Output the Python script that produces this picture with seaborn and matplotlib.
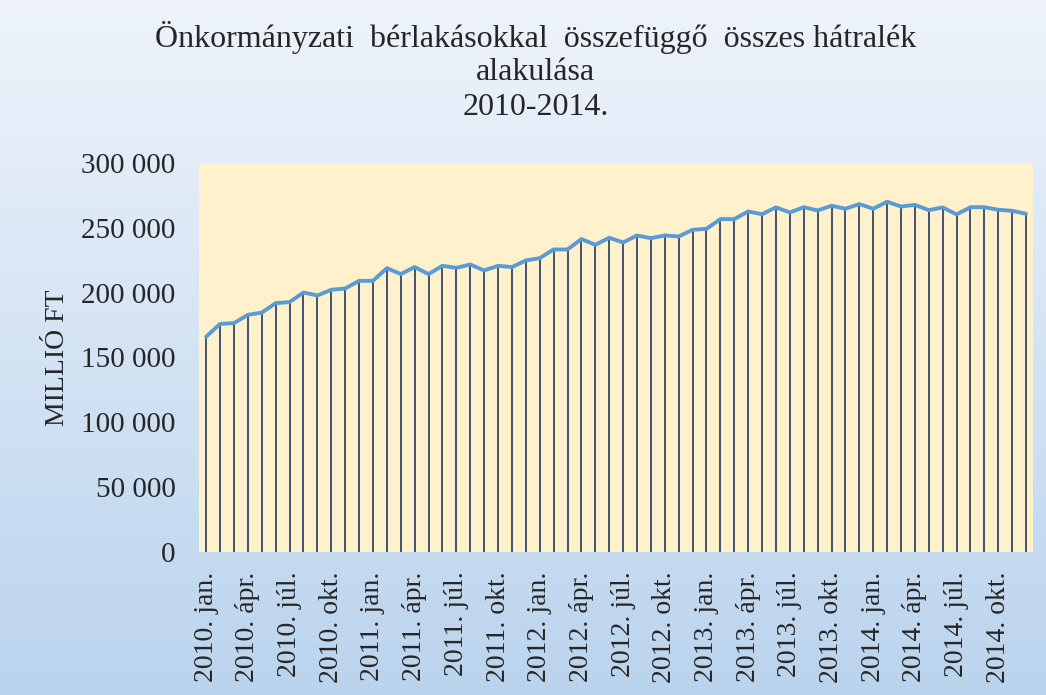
import numpy as np
import pandas as pd
import matplotlib.pyplot as plt
import seaborn as sns
from matplotlib.ticker import FuncFormatter

# -------------------------
# Data (millió Ft, monthly, 2010 jan - 2014 dec)
# -------------------------
years = [2010, 2011, 2012, 2013, 2014]
months = ["jan.", "febr.", "márc.", "ápr.", "máj.", "jún.",
          "júl.", "aug.", "szept.", "okt.", "nov.", "dec."]

arrears = [
    166100, 175900, 176500, 182900, 184600, 191900, 192700, 200100, 197800, 202200, 203200, 209100,
    209100, 218900, 214300, 219700, 214300, 220700, 219100, 221700, 217100, 220700, 219700, 224800,
    226600, 233300, 233300, 241300, 236900, 242300, 238700, 244100, 242000, 244100, 243300, 248500,
    249200, 256700, 256700, 262600, 260500, 265800, 261800, 265900, 263400, 267000, 264700, 268300,
    264700, 270100, 266400, 267700, 263600, 265700, 260300, 265900, 265900, 263900, 263100, 260800,
]

labels = [f"{y}. {m}" for y in years for m in months]
df = pd.DataFrame({"idx": range(len(arrears)), "label": labels, "value": arrears})

# -------------------------
# Figure + gradient background
# -------------------------
sns.set_style("white")
plt.rcParams["font.family"] = ["Liberation Serif", "DejaVu Serif"]

fig = plt.figure(figsize=(10.46, 6.95), dpi=100)
bg = fig.add_axes([0, 0, 1, 1], zorder=-10)
top_c = np.array([0.935, 0.955, 0.985])
bot_c = np.array([0.73, 0.83, 0.93])
t = np.linspace(0, 1, 256)[:, None, None]
grad = top_c * (1 - t) + bot_c * t
bg.imshow(np.repeat(grad, 2, axis=1), aspect="auto", extent=[0, 1, 0, 1])
bg.axis("off")

ax = fig.add_axes([0.1905, 0.2058, 0.7971, 0.5597])
ax.set_facecolor("#FFF1CC")

# drop lines + line
ax.vlines(df["idx"], 0, df["value"], color="#24385f", lw=1.2, zorder=2)
sns.lineplot(data=df, x="idx", y="value", color="#5B9BD5", lw=2.8, ax=ax, zorder=3)

ax.set_xlim(-0.5, len(df) - 0.5)
ax.set_ylim(0, 300000)
ax.set_yticks(range(0, 300001, 50000))
ax.yaxis.set_major_formatter(FuncFormatter(lambda v, p: f"{int(v):,}".replace(",", " ")))
ax.set_xticks(df["idx"][::3])
ax.set_xticklabels(df["label"][::3], rotation=90, fontsize=20)
ax.tick_params(axis="x", length=0, pad=14)
ax.tick_params(axis="y", length=0, pad=17, labelsize=21)
for s in ax.spines.values():
    s.set_visible(False)

ax.set_xlabel("")
ax.set_ylabel("MILLIÓ FT", fontsize=20, labelpad=8)

fig.text(0.512, 0.946, "Önkormányzati  bérlakásokkal  összefüggő  összes hátralék",
         ha="center", va="center", fontsize=23)
fig.text(0.512, 0.895, "alakulása", ha="center", va="center", fontsize=23)
fig.text(0.512, 0.846, "2010-2014.", ha="center", va="center", fontsize=23)

fig.savefig("out.png", dpi=100)
plt.close()
